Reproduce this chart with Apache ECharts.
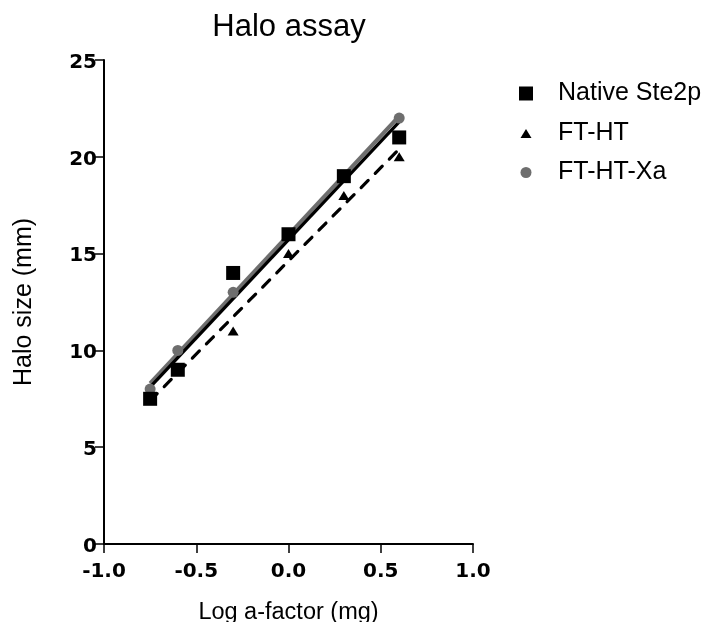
<!DOCTYPE html>
<html>
<head>
<meta charset="utf-8">
<script src="https://cdn.jsdelivr.net/npm/echarts@6/dist/echarts.min.js"></script>
<style>html,body{margin:0;padding:0;background:#fff}#c{width:715px;height:622px}</style>
</head>
<body>
<div id="c"></div>
<script>
var xValues = [-0.75, -0.6, -0.3, 0, 0.3, 0.6];
var nativeSte2p = [7.5, 9, 14, 16, 19, 21];
var ftHT = [7.5, 9, 11, 15, 18, 20];
var ftHTXa = [8, 10, 13, 16, 19, 22];
var fitX = [-0.75, 0.6];
var fitNative = [8.1, 21.8];
var fitFtHT = [7.4, 20.4];
var fitXa = [8.3, 22.1];
var xTicks = [-1.0, -0.5, 0.0, 0.5, 1.0];
var yTicks = [0, 5, 10, 15, 20, 25];

function pts(ys) { return xValues.map(function (x, i) { return [x, ys[i]]; }); }
function fit(ys) { return fitX.map(function (x, i) { return [x, ys[i]]; }); }

var FONT = 'Liberation Sans, Arial, sans-serif';
var TICKFONT = 'DejaVu Sans, sans-serif';
var chart = echarts.init(document.getElementById('c'));
function legendItem(name, icon, w, h, top) {
  return {
    orient: 'vertical', left: 526 - w / 2, top: top, padding: 0, itemGap: 0,
    itemWidth: w, itemHeight: h, selectedMode: false,
    textStyle: { fontFamily: FONT, fontSize: 25, color: '#000', padding: [0, 0, 0, 27 - w / 2] },
    data: [{ name: name, icon: icon }]
  };
}
chart.setOption({
  animation: false,
  backgroundColor: '#fff',
  title: {
    text: 'Halo assay', left: 284, top: 7, textAlign: 'center',
    textStyle: { fontFamily: FONT, fontSize: 31, fontWeight: 'normal', color: '#000' }
  },
  legend: [
    legendItem('Native Ste2p', 'rect', 14, 14, 81),
    legendItem('FT-HT', 'triangle', 11, 9, 121),
    legendItem('FT-HT-Xa', 'circle', 11, 11, 160)
  ],
  grid: { left: 104, right: 242, top: 60, bottom: 78, containLabel: false, outerBoundsMode: 'none' },
  xAxis: {
    type: 'value', min: xTicks[0], max: xTicks[xTicks.length - 1], interval: 0.5,
    name: 'Log a-factor (mg)', nameLocation: 'middle', nameGap: 57,
    nameTextStyle: { fontFamily: FONT, fontSize: 23.5, color: '#000' },
    axisLine: { onZero: false, lineStyle: { color: '#000', width: 2 } },
    axisTick: { length: 9, lineStyle: { color: '#000', width: 1.5 } },
    axisLabel: { margin: 18, fontFamily: TICKFONT, fontSize: 20, fontWeight: 'bold', color: '#000',
      formatter: function (v) { return v.toFixed(1); } },
    splitLine: { show: false }
  },
  yAxis: {
    type: 'value', min: yTicks[0], max: yTicks[yTicks.length - 1], interval: 5,
    name: 'Halo size (mm)', nameLocation: 'middle', nameGap: 67, nameRotate: 90,
    nameTextStyle: { fontFamily: FONT, fontSize: 25, color: '#000' },
    axisLine: { show: true, onZero: false, lineStyle: { color: '#000', width: 2 } },
    axisTick: { show: true, length: 9, lineStyle: { color: '#000', width: 1.5 } },
    axisLabel: { margin: 7, fontFamily: TICKFONT, fontSize: 20, fontWeight: 'bold', color: '#000',
      verticalAlign: 'top', lineHeight: 5 },
    splitLine: { show: false }
  },
  series: [
    { name: 'fitXa', type: 'line', data: fit(fitXa), showSymbol: false, silent: true,
      lineStyle: { color: '#6e6e6e', width: 4 }, z: 2 },
    { name: 'fitNative', type: 'line', data: fit(fitNative), showSymbol: false, silent: true,
      lineStyle: { color: '#000', width: 3.2 }, z: 3 },
    { name: 'fitFtHT', type: 'line', data: fit(fitFtHT), showSymbol: false, silent: true,
      lineStyle: { color: '#000', width: 3.2, type: [10, 10], cap: 'round' }, z: 3 },
    { name: 'FT-HT-Xa', type: 'scatter', data: pts(ftHTXa), symbol: 'circle', symbolSize: 11,
      itemStyle: { color: '#6e6e6e', opacity: 1 }, z: 4 },
    { name: 'FT-HT', type: 'scatter', data: pts(ftHT), symbol: 'triangle', symbolSize: [11, 9],
      itemStyle: { color: '#000', opacity: 1 }, z: 5 },
    { name: 'Native Ste2p', type: 'scatter', data: pts(nativeSte2p), symbol: 'rect', symbolSize: 14,
      itemStyle: { color: '#000', opacity: 1 }, z: 6 }
  ]
});
</script>
</body>
</html>
